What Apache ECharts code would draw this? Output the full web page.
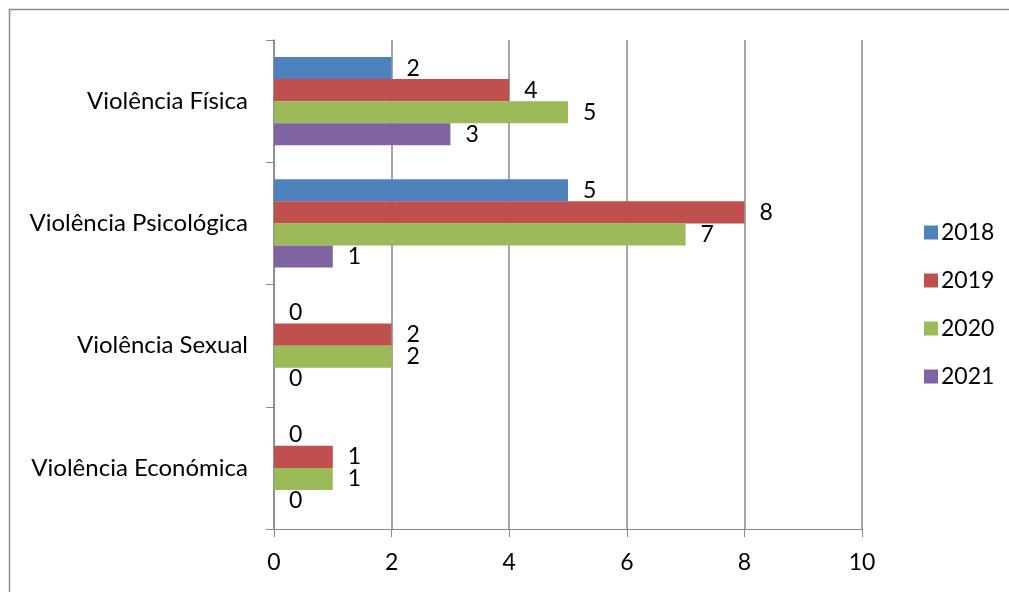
<!DOCTYPE html>
<html>
<head>
<meta charset="utf-8">
<script src="https://cdn.jsdelivr.net/npm/echarts@6/dist/echarts.min.js"></script>
<style>
  html, body { margin: 0; padding: 0; background: #fff; }
  #chart { width: 1009px; height: 592px; }
</style>
</head>
<body>
<div id="chart"></div>
<script>
// Types of violence (top to bottom) and yearly case counts
const categories = ['Violência Física', 'Violência Psicológica', 'Violência Sexual', 'Violência Económica'];
const years = ['2018', '2019', '2020', '2021'];
const values2018 = [2, 5, 0, 0];
const values2019 = [4, 8, 2, 1];
const values2020 = [5, 7, 2, 1];
const values2021 = [3, 1, 0, 0];
const xTicks = [0, 2, 4, 6, 8, 10];

const colors = ['#4F81BD', '#C0504D', '#9BBB59', '#8064A2'];
const seriesValues = [values2018, values2019, values2020, values2021];
const FONT = 'Lato, "Open Sans", sans-serif';
const GRID_COLOR = '#898989';
const NUM_SIZE = 23;

const chart = echarts.init(document.getElementById('chart'), null, { renderer: 'canvas' });

chart.setOption({
  animation: false,
  backgroundColor: '#fff',
  color: colors,
  textStyle: { fontFamily: FONT },
  graphic: [{
    type: 'rect',
    shape: { x: 9.5, y: 9.5, width: 1020, height: 620 },
    style: { fill: 'none', stroke: '#8c8c8c', lineWidth: 1.5 },
    silent: true
  }],
  grid: { left: 274, right: 147, top: 40, bottom: 63, containLabel: false },
  legend: {
    orient: 'vertical',
    left: 919,
    top: 216,
    itemWidth: 14,
    itemHeight: 14,
    itemGap: 25,
    icon: 'rect',
    data: years,
    textStyle: { fontSize: NUM_SIZE, color: '#000', fontFamily: FONT, padding: [0, 0, 0, -2] }
  },
  xAxis: {
    type: 'value',
    min: xTicks[0],
    max: xTicks[xTicks.length - 1],
    interval: 2,
    axisLine: { show: true, lineStyle: { color: GRID_COLOR, width: 1 } },
    axisTick: { show: true, length: 8, lineStyle: { color: GRID_COLOR } },
    splitLine: { show: true, lineStyle: { color: GRID_COLOR, width: 1.5 } },
    axisLabel: { fontSize: NUM_SIZE, color: '#000', margin: 22, fontFamily: FONT }
  },
  yAxis: {
    type: 'category',
    inverse: true,
    data: categories,
    axisLine: { show: true, lineStyle: { color: GRID_COLOR, width: 1.5 } },
    axisTick: { show: true, length: 8, lineStyle: { color: GRID_COLOR } },
    axisLabel: { fontSize: 24, color: '#000', margin: 26, fontFamily: FONT }
  },
  series: years.map((y, i) => ({
    name: y,
    type: 'bar',
    data: seriesValues[i],
    barGap: '0%',
    barCategoryGap: '28%',
    itemStyle: { color: colors[i] },
    label: {
      show: true,
      position: 'right',
      distance: 15,
      fontSize: NUM_SIZE,
      color: '#000',
      fontFamily: FONT
    }
  }))
});
</script>
</body>
</html>
